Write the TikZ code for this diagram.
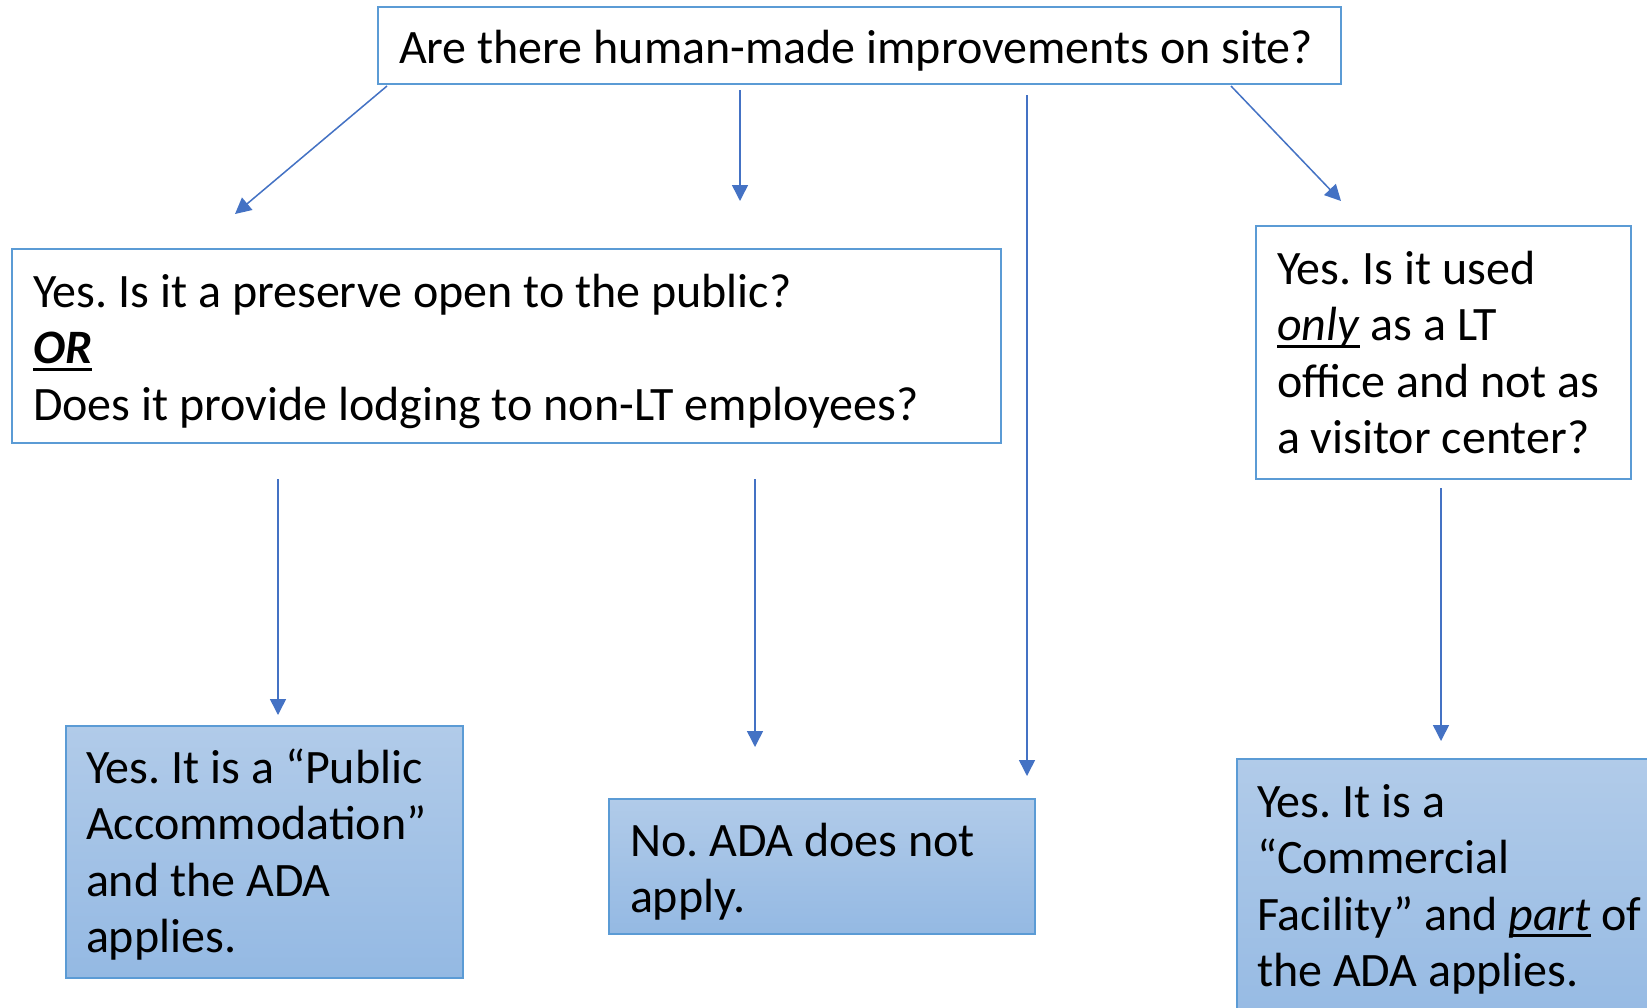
\documentclass[tikz,border=0pt]{standalone}
\usepackage{fontspec}
\setmainfont{Carlito}
\usetikzlibrary{arrows.meta}
\definecolor{boxblue}{HTML}{5B9BD5}
\definecolor{arrblue}{HTML}{4472C4}
\definecolor{gradtop}{HTML}{B1CBE9}
\definecolor{gradbot}{HTML}{94B9E3}
\newcommand\myul[1]{\setbox0\hbox{#1}\rlap{\rule[-0.15em]{\wd0}{0.065em}}\box0\relax}
\frenchspacing
\tikzset{
  qbox/.style={draw=boxblue, line width=2.5pt, fill=white, rectangle, inner sep=0pt, outer sep=0pt, anchor=north west},
  abox/.style={draw=boxblue, line width=2pt, top color=gradtop, bottom color=gradbot, rectangle, inner sep=0pt, outer sep=0pt, anchor=north west},
  txt/.style={inner sep=0pt, outer sep=0pt, anchor=base west, font=\fontsize{48}{56.5}\selectfont},
  arr/.style={draw=arrblue, line width=1.5pt, -{Triangle[length=16pt,width=16pt]}}
}
\begin{document}
\begin{tikzpicture}[x=1pt,y=-1pt]
\clip (0,0) rectangle (1647,1007);
\fill[white] (0,0) rectangle (1647,1007);
% boxes
\node[qbox, minimum width=963pt, minimum height=77pt] (top) at (378,7) {};
\node[qbox, minimum width=989pt, minimum height=194pt] (left) at (12,249) {};
\node[qbox, minimum width=375pt, minimum height=253pt] (right) at (1256,226) {};
\node[abox, minimum width=397pt, minimum height=252pt] (pub) at (66,726) {};
\node[abox, minimum width=426pt, minimum height=135pt] (no) at (609,799) {};
\node[abox, minimum width=440pt, minimum height=280pt] (com) at (1237,759) {};
% texts
\node[txt] (toptxt) at (399,63) {Are there human-made improvements on site?};
\node[txt] (lefttxt) at (33,307) {\vtop{\hbox{Yes. Is it a preserve open to the public?}\hbox{\myul{\textbf{\textit{OR}}}}\hbox{Does it provide lodging to non-LT employees?}}};
\node[txt] (righttxt) at (1277,284) {\vtop{\hbox{Yes. Is it used}\hbox{\myul{\textit{only}} as a LT}\hbox{office and not as}\hbox{a visitor center?}}};
\node[txt] (pubtxt) at (86,783) {\vtop{\hbox{Yes. It is a “Public}\hbox{Accommodation”}\hbox{and the ADA}\hbox{applies.}}};
\node[txt] (notxt) at (630,856) {\vtop{\hbox{No. ADA does not}\hbox{apply.}}};
\node[txt] (comtxt) at (1257,817) {\vtop{\hbox{Yes. It is a}\hbox{“Commercial}\hbox{Facility” and \myul{\textit{part}} of}\hbox{the ADA applies.}}};
% arrow end points
\coordinate (a1s) at (387,86);   \coordinate (a1e) at (235,214);
\coordinate (a2s) at (740,90);   \coordinate (a2e) at (740,201);
\coordinate (a3s) at (1027,95);  \coordinate (a3e) at (1027,776);
\coordinate (a4s) at (1231,86);  \coordinate (a4e) at (1341,201);
\coordinate (a5s) at (278,479);  \coordinate (a5e) at (278,715);
\coordinate (a6s) at (755,479);  \coordinate (a6e) at (755,747);
\coordinate (a7s) at (1441,488); \coordinate (a7e) at (1441,741);
\draw[arr] (a1s) -- (a1e);
\draw[arr] (a2s) -- (a2e);
\draw[arr] (a3s) -- (a3e);
\draw[arr] (a4s) -- (a4e);
\draw[arr] (a5s) -- (a5e);
\draw[arr] (a6s) -- (a6e);
\draw[arr] (a7s) -- (a7e);
\end{tikzpicture}
\end{document}
